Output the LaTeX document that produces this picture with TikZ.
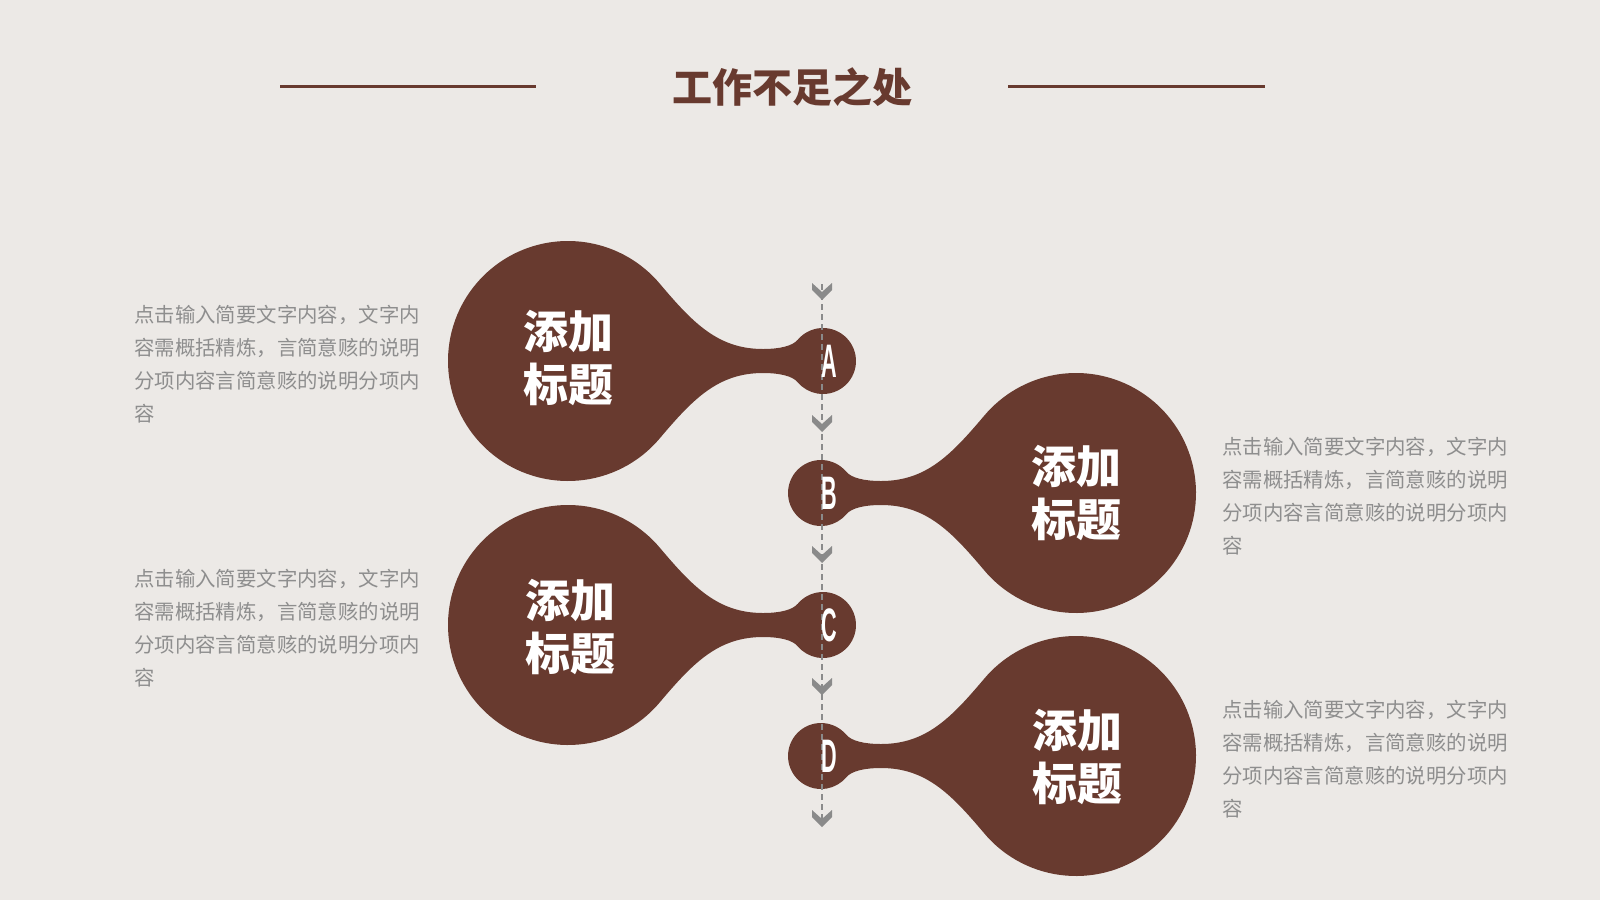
\documentclass[tikz,border=0pt]{standalone}
\usepackage{fontspec}
\usepackage{graphicx}
\setmainfont{Liberation Sans}
\newfontfamily\cjk{Noto Sans CJK SC}
\definecolor{bgc}{HTML}{ECE9E6}
\definecolor{brownc}{HTML}{683A2F}
\definecolor{greyc}{HTML}{8A8A8A}
\definecolor{textc}{HTML}{8E8E8E}

\begin{document}
\begin{tikzpicture}[x=1pt, y=-1pt]
\tikzset{guide/.style = {draw=greyc, line width=2.2pt, dash pattern=on 6pt off 4pt}}
\tikzset{chev/.style = {fill=greyc}}
\tikzset{desc/.style = {anchor=north west, inner sep=0pt, align=left, text=textc, font=\cjk\fontsize{20.4}{33}\selectfont}}
\tikzset{bigtitle/.style = {align=center, text=white, inner sep=0pt, font=\cjk\bfseries\fontsize{45}{53}\selectfont}}
\tikzset{letter/.style = {text=white, inner sep=0pt, font=\bfseries\fontsize{47}{47}\selectfont}}
\tikzset{spoon/.pic = {
  \fill[brownc] (40:120) arc[start angle=40, end angle=320, radius=120]
    .. controls (125,-38) and (150,-12) .. (195,-12)
    .. controls (212,-12) and (224.6,-15.1) .. (229.7,-21.2)
    arc[start angle=220, end angle=500, radius=33]
    .. controls (224.6,15.1) and (212,12) .. (195,12)
    .. controls (150,12) and (125,38) .. cycle;
}}

\fill[bgc] (0,0) rectangle (1600,900);

% heading
\draw[brownc, line width=3pt] (280,86) -- (536,86);
\draw[brownc, line width=3pt] (1008,86) -- (1265,86);
\node[text=brownc, font=\cjk\bfseries\fontsize{40}{40}\selectfont] (title) at (792,87) {工作不足之处};

% shapes
\pic at (568,361) {spoon};
\pic[xscale=-1] at (1076,493) {spoon};
\pic at (568,625) {spoon};
\pic[xscale=-1] at (1076,756) {spoon};

\draw[guide] (822,284) -- (822,826);
\foreach \y in {291,423,554,686,818}
  \fill[chev] (812,\y-8) -- (822,\y+1) -- (832,\y-8) -- (832,\y-1) -- (822,\y+9) -- (812,\y-1) -- cycle;

\node[letter] (lA) at (829,361) {\scalebox{0.46}[1]{A}};
\node[letter] (lB) at (829,493) {\scalebox{0.46}[1]{B}};
\node[letter] (lC) at (829,625) {\scalebox{0.46}[1]{C}};
\node[letter] (lD) at (829,756) {\scalebox{0.46}[1]{D}};

\node[bigtitle] (tA) at (568,358) {添加\\标题};
\node[bigtitle] (tB) at (1076,493) {添加\\标题};
\node[bigtitle] (tC) at (570,627) {添加\\标题};
\node[bigtitle] (tD) at (1077,757) {添加\\标题};

% texts
\node[desc] (dA) at (134,305) {点击输入简要文字内容，文字内\\容需概括精炼，言简意赅的说明\\分项内容言简意赅的说明分项内\\容};
\node[desc] (dB) at (1222,437) {点击输入简要文字内容，文字内\\容需概括精炼，言简意赅的说明\\分项内容言简意赅的说明分项内\\容};
\node[desc] (dC) at (134,569) {点击输入简要文字内容，文字内\\容需概括精炼，言简意赅的说明\\分项内容言简意赅的说明分项内\\容};
\node[desc] (dD) at (1222,700) {点击输入简要文字内容，文字内\\容需概括精炼，言简意赅的说明\\分项内容言简意赅的说明分项内\\容};
\end{tikzpicture}
\end{document}
